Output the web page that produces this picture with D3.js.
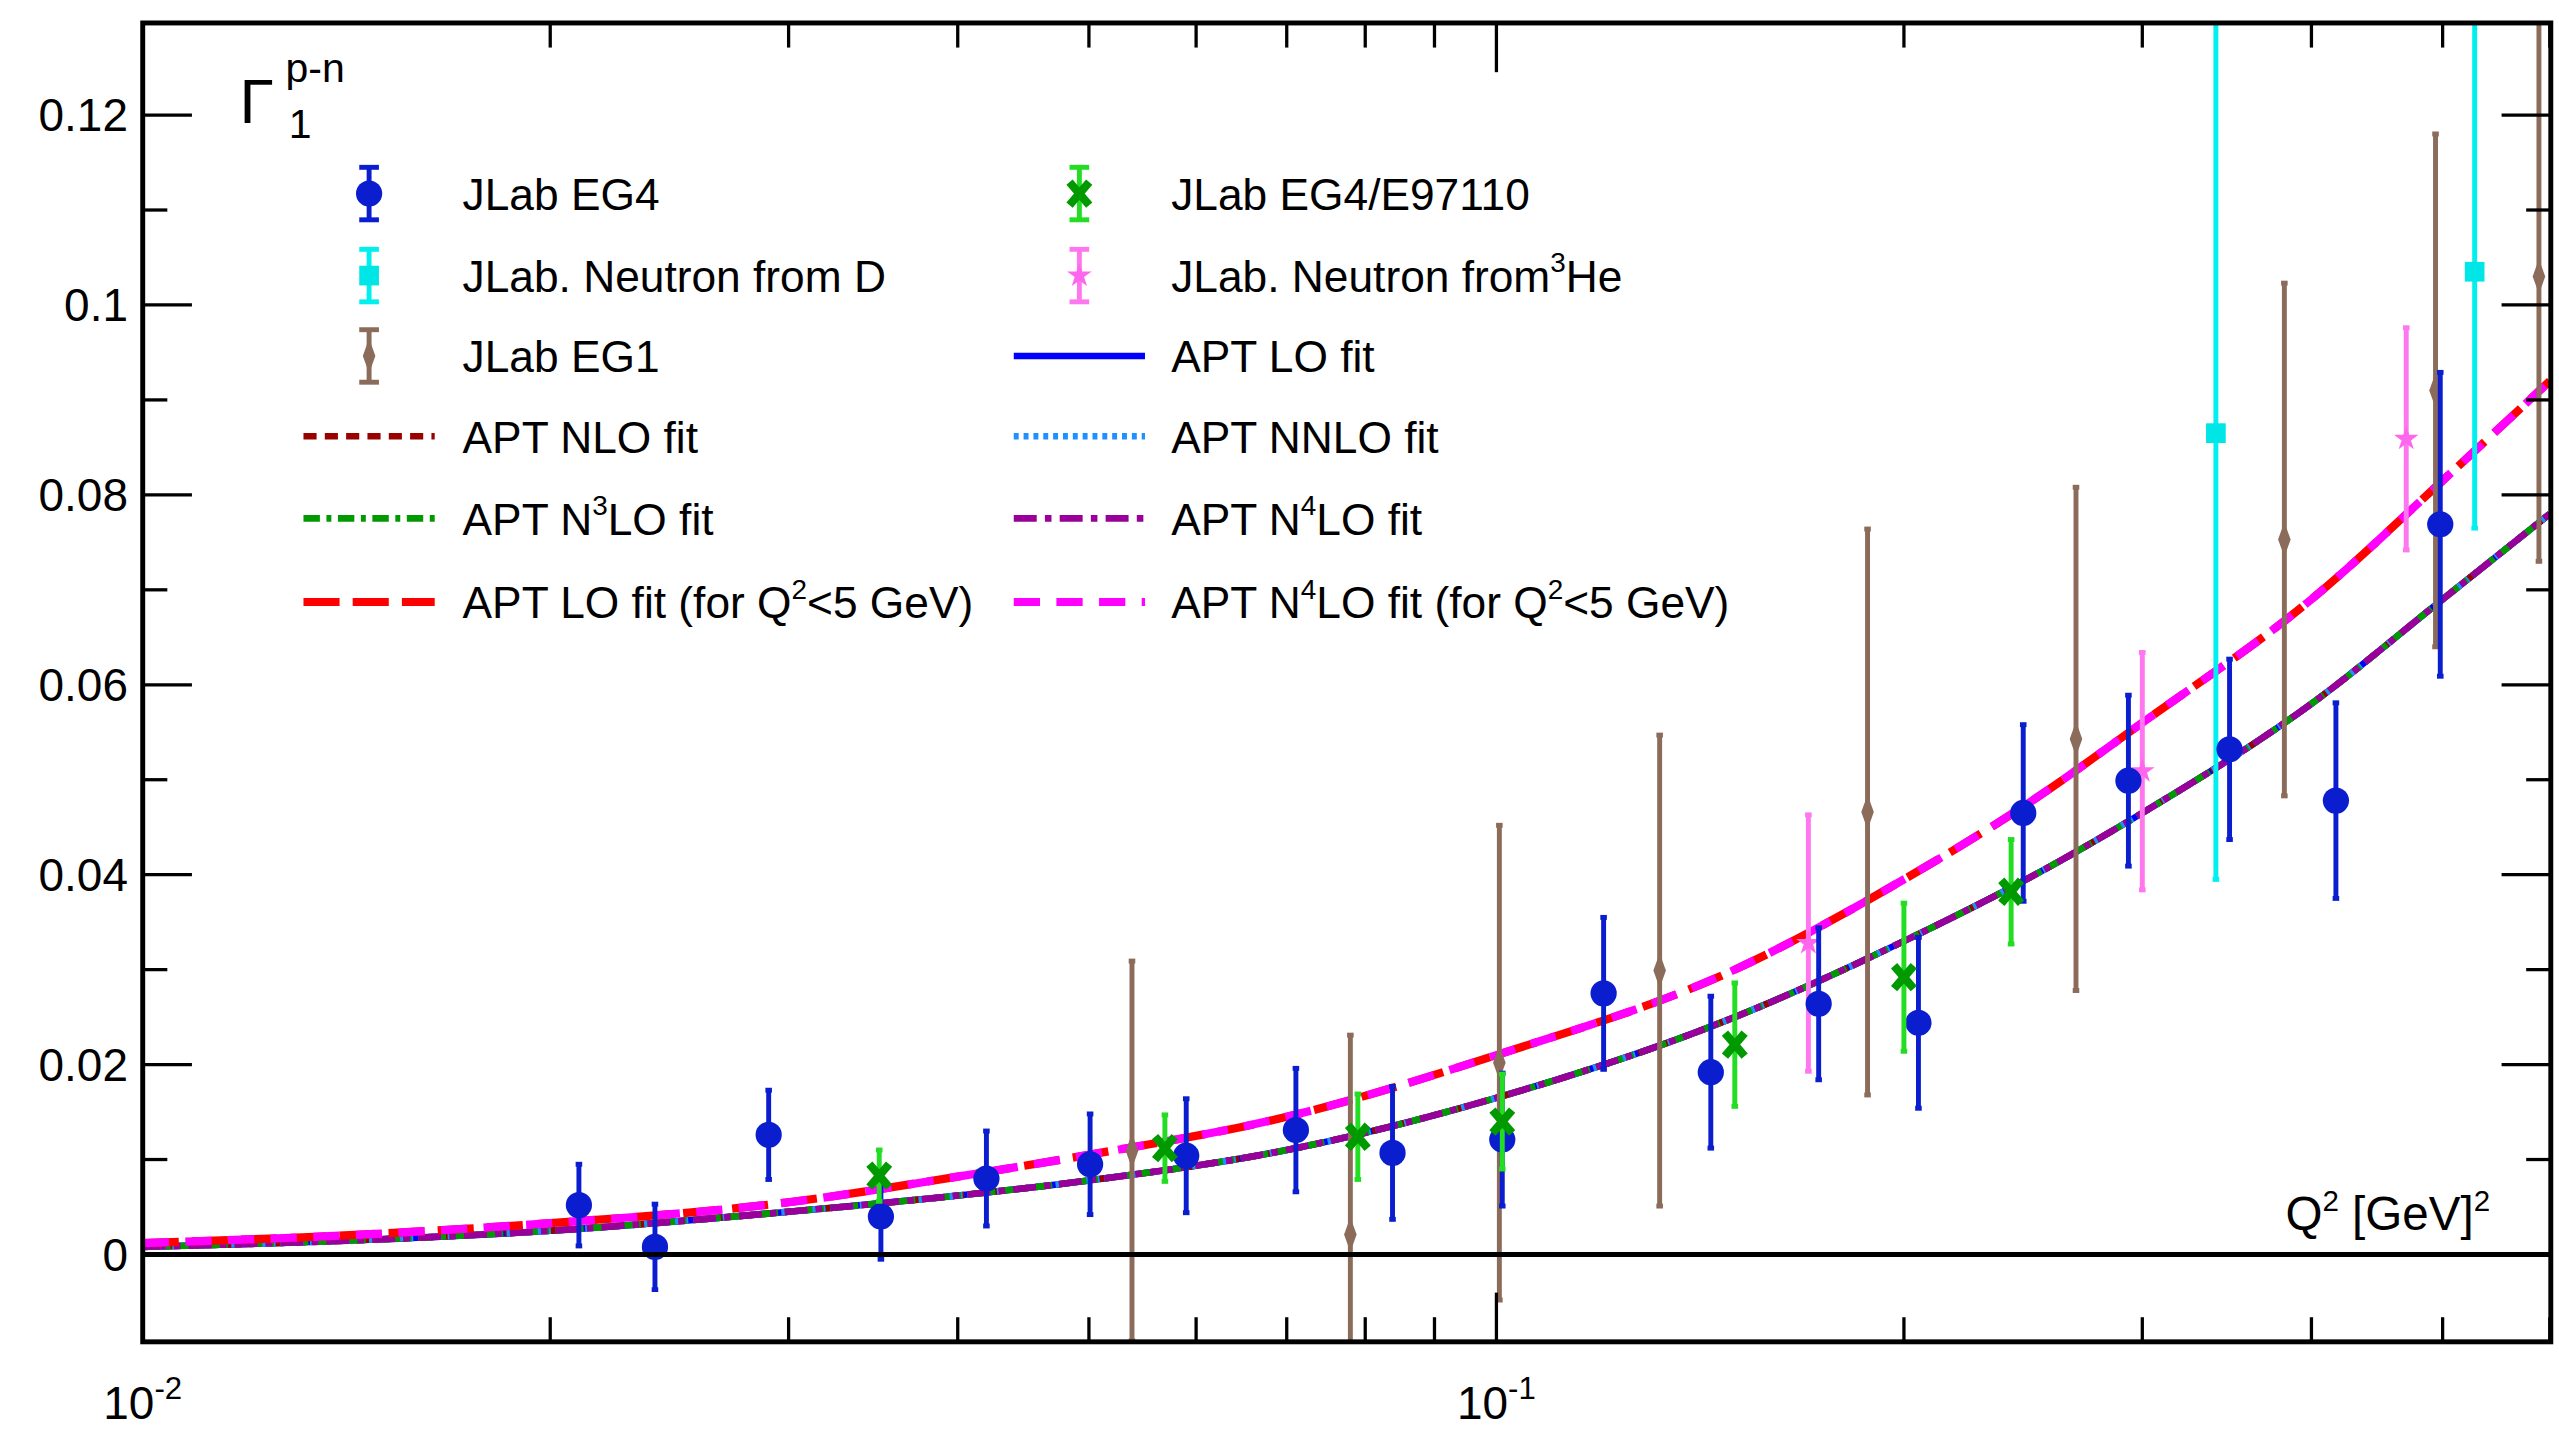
<!doctype html>
<html lang="en">
<head>
<meta charset="utf-8">
<title>Gamma1 p-n</title>
<script src="https://cdn.jsdelivr.net/npm/d3@7"></script>
<style>
body { margin: 0; background: #fff; }
text { font-family: "Liberation Sans", Arial, sans-serif; }
</style>
</head>
<body>
<svg id="chart" width="2559" height="1435" viewBox="0 0 1560 874.8"></svg>
<script>
// data: [Q2, Gamma1, error]
var eg4 = [[0.0210,0.0052,0.0043],[0.0239,0.0008,0.0045],[0.0290,0.0126,0.0047],[0.0351,0.0040,0.0045],
  [0.0420,0.0080,0.0050],[0.0501,0.0095,0.0053],[0.0590,0.0104,0.0060],[0.0711,0.0131,0.0065],
  [0.0838,0.0107,0.0070],[0.1010,0.0121,0.0070],[0.1200,0.0275,0.0080],[0.1440,0.0192,0.0080],
  [0.1730,0.0264,0.0080],[0.2050,0.0244,0.0090],[0.2450,0.0465,0.0093],[0.2930,0.0499,0.0090],
  [0.3480,0.0532,0.0095],[0.4170,0.0478,0.0103],[0.4980,0.0769,0.0160]];
var e97110 = [[0.0350,0.0083,0.0027],[0.0569,0.0112,0.0035],[0.0790,0.0124,0.0045],[0.1010,0.0140,0.0050],
  [0.1500,0.0221,0.0065],[0.2000,0.0292,0.0078],[0.2400,0.0382,0.0055]];
var neutronD = [[0.340,0.0865,0.047],[0.528,0.1035,0.027]];
var neutronHe3 = [[0.170,0.0328,0.0135],[0.300,0.0509,0.0125],[0.470,0.0859,0.0117]];
var eg1 = [[0.0538,0.0109,0.0200],[0.0780,0.0021,0.0210],[0.1005,0.0202,0.0250],[0.132,0.0299,0.0248],
  [0.188,0.0466,0.0298],[0.268,0.0543,0.0265],[0.382,0.0753,0.0270],[0.494,0.0910,0.0270],[0.589,0.1030,0.0300]];
var fitQ2 = [0.01,0.015,0.02,0.03,0.04,0.05,0.07,0.1,0.15,0.2,0.25,0.3,0.4,0.5,0.6];
var fitAll = [0.0008,0.0016,0.0025,0.0045,0.0062,0.0078,0.011,0.0165,0.025,0.033,0.040,0.0465,0.058,0.069,0.078];
var fitLow = [0.0012,0.0022,0.0033,0.0055,0.0082,0.0105,0.0145,0.021,0.030,0.0395,0.048,0.056,0.069,0.0815,0.092];
var yTicks = [0, 0.02, 0.04, 0.06, 0.08, 0.1, 0.12];

var svg = d3.select("#chart");
var L = 87, R = 1555, T = 14, B = 818;
var x = d3.scaleLog().domain([0.01, 0.601]).range([L, R]);
var y = d3.scaleLinear().domain([-0.0092, 0.1297]).range([B, T]);

var plot = svg.append("g");
plot.append("clipPath").attr("id", "clip").append("rect")
  .attr("x", L).attr("y", T).attr("width", R - L).attr("height", B - T);

// ticks
var tk = svg.append("g").attr("stroke", "#000").attr("stroke-width", 2);
d3.range(-0.01, 0.13, 0.01).forEach(function (v) {
  if (y(v) > B || y(v) < T) return;
  var major = Math.abs(Math.round(v * 100) % 2) === 0;
  var len = major ? 30 : 15;
  tk.append("line").attr("x1", L).attr("x2", L + len).attr("y1", y(v)).attr("y2", y(v));
  tk.append("line").attr("x1", R).attr("x2", R - len).attr("y1", y(v)).attr("y2", y(v));
});
[0.01, 0.1].forEach(function (d) {
  for (var k = 1; k < 10; k++) {
    var v = d * k;
    if (v > 0.601) break;
    var len = k === 1 ? 30 : 15;
    tk.append("line").attr("x1", x(v)).attr("x2", x(v)).attr("y1", B).attr("y2", B - len);
    tk.append("line").attr("x1", x(v)).attr("x2", x(v)).attr("y1", T).attr("y2", T + len);
  }
});

svg.selectAll(".ylab").data(yTicks).join("text")
  .attr("x", 78).attr("y", function (d) { return y(d) + 10; })
  .attr("text-anchor", "end").attr("font-size", 28)
  .text(function (d) { return d === 0 ? "0" : d3.format(".2~f")(d); });
[[0.01, "-2"], [0.1, "-1"]].forEach(function (t) {
  var g = svg.append("text").attr("x", x(t[0])).attr("y", 865).attr("text-anchor", "middle").attr("font-size", 28);
  g.append("tspan").text("10");
  g.append("tspan").attr("dy", -12).attr("font-size", 19).text(t[1]);
});

// zero line
svg.append("line").attr("x1", L).attr("x2", R).attr("y1", y(0)).attr("y2", y(0))
  .attr("stroke", "#000").attr("stroke-width", 3);

// fits
var line = d3.line().x(function (d) { return x(d[0]); }).y(function (d) { return y(d[1]); }).curve(d3.curveMonotoneX);
var lowFits = [
  {c: "#0000ff", w: 4, dash: null},
  {c: "#990000", w: 4, dash: "8,5"},
  {c: "#1e90ff", w: 4, dash: "3,3"},
  {c: "#009900", w: 4, dash: "10,4,3,4"},
  {c: "#990099", w: 4, dash: "14,5,4,5"}];
var highFits = [
  {c: "#ff0000", w: 5, dash: "22,8"},
  {c: "#ff00ff", w: 5, dash: "16,10"}];
var cg = plot.append("g").attr("clip-path", "url(#clip)").attr("fill", "none");
lowFits.forEach(function (f) {
  cg.append("path").datum(d3.zip(fitQ2, fitAll)).attr("d", line)
    .attr("stroke", f.c).attr("stroke-width", f.w).attr("stroke-dasharray", f.dash);
});
highFits.forEach(function (f) {
  cg.append("path").datum(d3.zip(fitQ2, fitLow)).attr("d", line)
    .attr("stroke", f.c).attr("stroke-width", f.w).attr("stroke-dasharray", f.dash);
});

// markers
function marker(g, type, color, px, py) {
  if (type === "circle") g.append("circle").attr("cx", px).attr("cy", py).attr("r", 8).attr("fill", color);
  else if (type === "square") g.append("rect").attr("x", px - 6).attr("y", py - 6).attr("width", 12).attr("height", 12).attr("fill", color);
  else if (type === "diamond") g.append("path").attr("d", d3.symbol(d3.symbolDiamond, 90)()).attr("transform", "translate(" + px + "," + py + ") scale(0.75,1.2)").attr("fill", color);
  else if (type === "star") g.append("path").attr("d", d3.symbol(d3.symbolStar, 70)()).attr("transform", "translate(" + px + "," + py + ")").attr("fill", color);
  else if (type === "x") g.append("path").attr("d", "M-6,-7L6,7M-6,7L6,-7").attr("transform", "translate(" + px + "," + py + ")").attr("stroke", color).attr("stroke-width", 5);
}
function series(data, type, color, barColor) {
  var g = cg.append("g");
  data.forEach(function (d) {
    var px = x(d[0]);
    g.append("line").attr("x1", px).attr("x2", px).attr("y1", y(d[1] - d[2])).attr("y2", y(d[1] + d[2]))
      .attr("stroke", barColor).attr("stroke-width", 3);
    [d[1] - d[2], d[1] + d[2]].forEach(function (v) {
      g.append("line").attr("x1", px - 2).attr("x2", px + 2).attr("y1", y(v)).attr("y2", y(v)).attr("stroke", barColor).attr("stroke-width", 3);
    });
    marker(g, type, color, px, y(d[1]));
  });
}
series(eg1, "diamond", "#8b6b5a", "#8b6b5a");
series(neutronHe3, "star", "#ff66ee", "#ff77ee");
series(neutronD, "square", "#00e5e5", "#00f0f0");
series(eg4, "circle", "#0a1ed0", "#0a1ed0");
series(e97110, "x", "#009900", "#22dd22");

// legend
var rows = [118, 168, 217, 266, 316, 367];
var lg = svg.append("g");
function legText(px, py, parts) {
  var t = lg.append("text").attr("x", px).attr("y", py + 10).attr("font-size", 27);
  var raised = false;
  parts.forEach(function (p) {
    if (typeof p === "string") {
      t.append("tspan").attr("dy", raised ? 12 : 0).text(p);
      raised = false;
    } else {
      t.append("tspan").attr("dy", -12).attr("font-size", 17).text(p.sup);
      raised = true;
    }
  });
}
function legMark(px, py, type, color, barColor, err) {
  lg.append("line").attr("x1", px).attr("x2", px).attr("y1", py - err).attr("y2", py + err).attr("stroke", barColor).attr("stroke-width", 3);
  [py - err, py + err].forEach(function (v) {
    lg.append("line").attr("x1", px - 6).attr("x2", px + 6).attr("y1", v).attr("y2", v).attr("stroke", barColor).attr("stroke-width", 3);
  });
  marker(lg, type, color, px, py);
}
function legLine(px, py, f) {
  lg.append("line").attr("x1", px - 40).attr("x2", px + 40).attr("y1", py).attr("y2", py)
    .attr("stroke", f.c).attr("stroke-width", f.w).attr("stroke-dasharray", f.dash);
}
legMark(225, rows[0], "circle", "#0a1ed0", "#0a1ed0", 16);
legText(282, rows[0], ["JLab EG4"]);
legMark(225, rows[1], "square", "#00e5e5", "#00f0f0", 16);
legText(282, rows[1], ["JLab. Neutron from D"]);
legMark(225, rows[2], "diamond", "#8b6b5a", "#8b6b5a", 16);
legText(282, rows[2], ["JLab EG1"]);
legLine(225, rows[3], lowFits[1]);
legText(282, rows[3], ["APT NLO fit"]);
legLine(225, rows[4], lowFits[3]);
legText(282, rows[4], ["APT N", {sup: "3"}, "LO fit"]);
legLine(225, rows[5], highFits[0]);
legText(282, rows[5], ["APT LO fit (for Q", {sup: "2"}, "<5 GeV)"]);
legMark(658, rows[0], "x", "#009900", "#22dd22", 16);
legText(714, rows[0], ["JLab EG4/E97110"]);
legMark(658, rows[1], "star", "#ff66ee", "#ff77ee", 16);
legText(714, rows[1], ["JLab. Neutron from", {sup: "3"}, "He"]);
legLine(658, rows[2], lowFits[0]);
legText(714, rows[2], ["APT LO fit"]);
legLine(658, rows[3], lowFits[2]);
legText(714, rows[3], ["APT NNLO fit"]);
legLine(658, rows[4], lowFits[4]);
legText(714, rows[4], ["APT N", {sup: "4"}, "LO fit"]);
legLine(658, rows[5], highFits[1]);
legText(714, rows[5], ["APT N", {sup: "4"}, "LO fit (for Q", {sup: "2"}, "<5 GeV)"]);

// titles
svg.append("text").attr("x", 146).attr("y", 75).attr("font-size", 38).text("Γ");
svg.append("text").attr("x", 174).attr("y", 50).attr("font-size", 25).text("p-n");
svg.append("text").attr("x", 176).attr("y", 84).attr("font-size", 25).text("1");
var xl = svg.append("text").attr("x", 1518).attr("y", 750).attr("text-anchor", "end").attr("font-size", 29);
xl.append("tspan").text("Q");
xl.append("tspan").attr("dy", -12).attr("font-size", 18).text("2");
xl.append("tspan").attr("dy", 12).text(" [GeV]");
xl.append("tspan").attr("dy", -12).attr("font-size", 18).text("2");

// frame
svg.append("rect").attr("x", L).attr("y", T).attr("width", R - L).attr("height", B - T)
  .attr("fill", "none").attr("stroke", "#000").attr("stroke-width", 3);
</script>
</body>
</html>
